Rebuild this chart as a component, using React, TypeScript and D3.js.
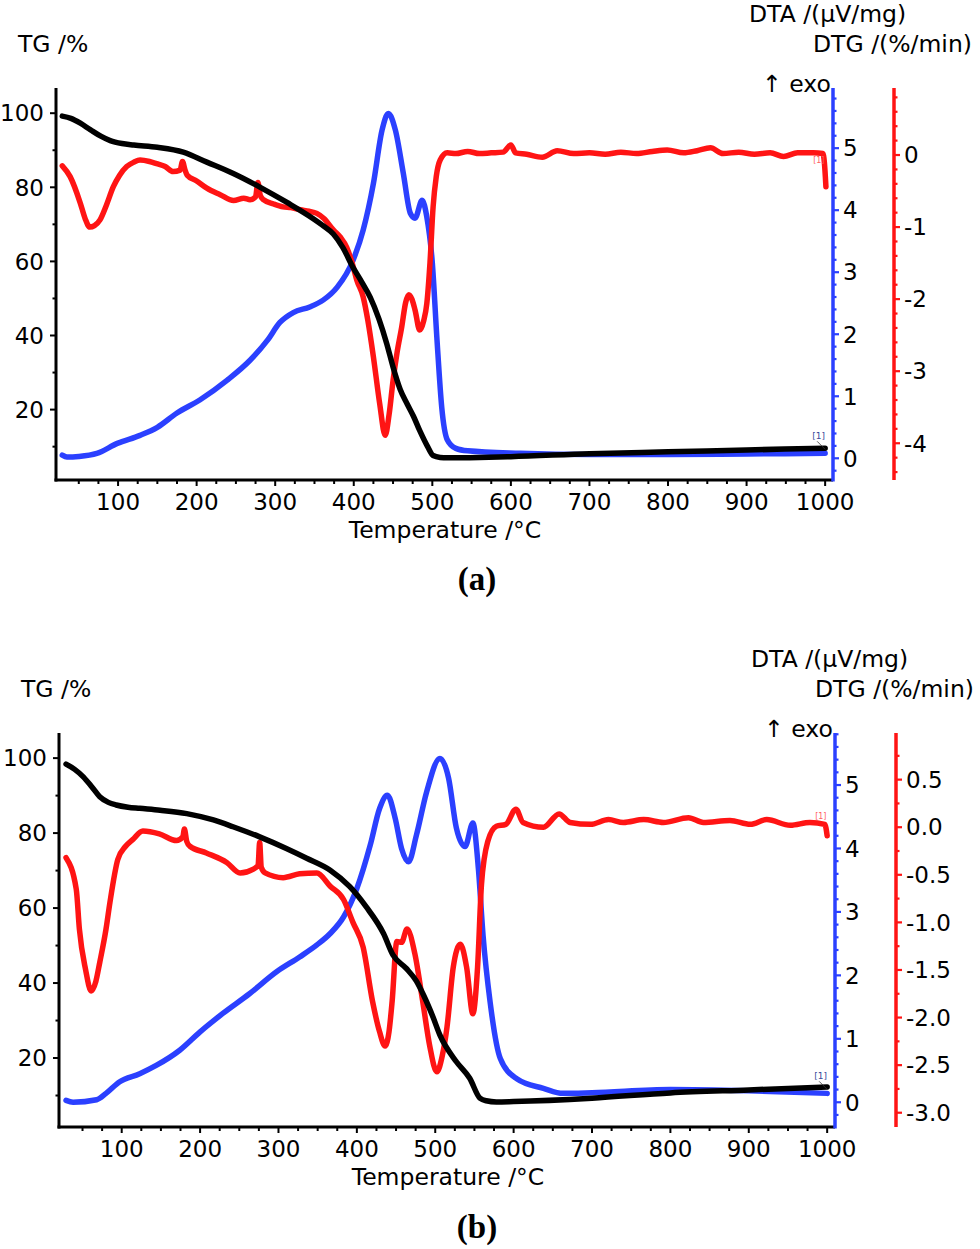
import React from 'react';
import * as d3 from 'd3';

type Pt = [number, number];

// ---- panel (a) ----
const tgA: Pt[] = [
  [29, 99.2], [40, 98.6], [52, 97.3], [65, 95.5], [78, 93.8], [90, 92.6], [105, 91.8], [120, 91.4],
  [150, 90.8], [183, 89.5], [213, 86.8], [246, 83.8], [281, 80.0], [315, 75.9], [348, 71.6], [360, 69.8],
  [374, 67.4], [386, 63.8], [399, 58.4], [410, 54.5], [421, 50.3], [432, 44.5], [442, 37.8], [450, 31.5],
  [459, 25.5], [468, 21.5], [476, 18.2], [484, 14.3], [494, 10.0], [501, 7.6], [510, 7.1], [519, 7.0],
  [560, 7.1], [600, 7.3], [700, 8.1], [800, 8.6], [900, 9.1], [1000, 9.6],
];

const dtaA: Pt[] = [
  [29, 0.05], [35, 0.02], [50, 0.03], [73, 0.08], [99, 0.24], [128, 0.37], [150, 0.5], [175, 0.73],
  [204, 0.94], [239, 1.26], [268, 1.58], [290, 1.9], [306, 2.19], [323, 2.35], [344, 2.44], [361, 2.55],
  [379, 2.76], [399, 3.19], [412, 3.68], [425, 4.43], [436, 5.29], [444, 5.56], [453, 5.29], [463, 4.6],
  [472, 3.95], [478, 3.87], [487, 4.16], [493, 3.89], [500, 3.15], [506, 1.9], [512, 0.82], [519, 0.3],
  [530, 0.16], [545, 0.12], [612, 0.08], [700, 0.06], [800, 0.06], [900, 0.07], [1000, 0.08],
];

const dtgA: Pt[] = [
  [29, -0.15], [39, -0.3], [52, -0.67], [58, -0.88], [64, -1.0], [70, -0.98], [77, -0.9], [85, -0.7],
  [94, -0.44], [102, -0.28], [111, -0.16], [120, -0.1], [128, -0.07], [140, -0.09], [149, -0.12],
  [160, -0.16], [170, -0.23], [179, -0.21], [182, -0.09], [185, -0.2], [188, -0.28], [200, -0.36],
  [213, -0.46], [230, -0.55], [247, -0.63], [260, -0.6], [268, -0.62], [275, -0.58], [278, -0.38],
  [281, -0.56], [285, -0.62], [298, -0.68], [310, -0.72], [320, -0.73], [332, -0.76], [343, -0.78],
  [353, -0.81], [362, -0.88], [374, -1.04], [383, -1.14], [391, -1.28], [398, -1.5], [404, -1.74],
  [412, -1.97], [418, -2.3], [425, -2.8], [433, -3.45], [440, -3.89], [445, -3.6], [450, -3.13],
  [455, -2.75], [461, -2.39], [466, -2.05], [470, -1.94], [474, -2.0], [478, -2.15], [484, -2.43],
  [489, -2.3], [493, -2.06], [497, -1.5], [501, -0.72], [505, -0.3], [510, -0.07], [519, 0.03],
  [530, 0.02], [545, 0.05], [560, 0.02], [575, 0.03], [590, 0.04], [600, 0.14], [606, 0.03],
  [620, 0.01], [640, -0.03], [659, 0.06], [680, 0.02], [700, 0.03], [720, 0.01], [740, 0.04],
  [760, 0.02], [780, 0.05], [799, 0.07], [820, 0.03], [837, 0.06], [854, 0.1], [870, 0.02],
  [890, 0.04], [910, 0.01], [930, 0.03], [947, -0.02], [965, 0.03], [985, 0.03], [997, 0.02],
  [999, -0.1], [1001, -0.44],
];

// ---- panel (b) ----
const tgB: Pt[] = [
  [29, 98.4], [40, 97.0], [51, 95.0], [62, 92.3], [72, 89.7], [83, 88.2], [93, 87.5], [108, 86.9],
  [123, 86.6], [149, 86.1], [183, 85.2], [217, 83.5], [242, 81.7], [276, 79.0], [310, 75.9], [336, 73.3],
  [366, 70.1], [391, 65.7], [412, 60.3], [434, 53.2], [446, 47.5], [463, 43.9], [476, 40.5], [485, 36.8],
  [497, 31.0], [506, 26.1], [527, 19.0], [544, 14.6], [557, 9.3], [565, 8.6], [578, 8.3], [600, 8.4],
  [700, 9.3], [800, 10.7], [900, 11.5], [1000, 12.3],
];

const dtaB: Pt[] = [
  [29, 0.03], [38, 0.0], [68, 0.04], [80, 0.14], [97, 0.32], [123, 0.45], [144, 0.58], [174, 0.82],
  [200, 1.11], [229, 1.4], [263, 1.71], [298, 2.06], [327, 2.29], [349, 2.48], [366, 2.66], [383, 2.92],
  [400, 3.37], [417, 4.05], [429, 4.63], [439, 4.84], [449, 4.47], [457, 4.0], [466, 3.79], [476, 4.21],
  [489, 4.89], [506, 5.42], [517, 5.11], [527, 4.32], [538, 4.03], [548, 4.4], [555, 3.69], [561, 2.63],
  [570, 1.58], [583, 0.69], [604, 0.37], [638, 0.22], [663, 0.14], [700, 0.15], [800, 0.2],
  [900, 0.18], [1000, 0.14],
];

const dtgB: Pt[] = [
  [29, -0.32], [42, -0.65], [46, -1.07], [54, -1.5], [61, -1.72], [67, -1.62], [72, -1.42], [80, -1.07],
  [85, -0.79], [95, -0.34], [105, -0.2], [114, -0.13], [127, -0.04], [148, -0.07], [170, -0.14],
  [178, -0.1], [180, -0.02], [183, -0.15], [187, -0.2], [208, -0.27], [234, -0.37], [251, -0.48],
  [268, -0.44], [274, -0.4], [276, -0.16], [278, -0.42], [283, -0.48], [306, -0.53], [327, -0.49],
  [349, -0.48], [366, -0.62], [383, -0.76], [395, -1.0], [408, -1.26], [420, -1.83], [429, -2.15],
  [436, -2.3], [441, -2.15], [445, -1.83], [451, -1.2], [457, -1.21], [464, -1.07], [474, -1.33],
  [484, -1.83], [493, -2.3], [502, -2.57], [509, -2.4], [515, -2.1], [523, -1.47], [532, -1.23],
  [540, -1.47], [548, -1.96], [554, -1.47], [559, -0.6], [567, -0.15], [578, 0.01], [590, 0.03],
  [603, 0.19], [612, 0.05], [638, 0.0], [658, 0.14], [672, 0.05], [698, 0.03], [721, 0.08],
  [740, 0.05], [766, 0.08], [791, 0.05], [823, 0.1], [842, 0.05], [876, 0.07], [902, 0.03],
  [923, 0.08], [953, 0.02], [978, 0.05], [997, 0.03], [1000, -0.09],
];

// axis ticks
const tempTicks = d3.range(100, 1001, 100);
const tempMinor = d3.range(50, 1001, 25).filter((v) => v % 100 !== 0);
const tgTicks = [20, 40, 60, 80, 100];
const tgMinor = [10, 30, 50, 70, 90];
const dtaTicks = [0, 1, 2, 3, 4, 5];
const dtaMinor = d3.range(-1, 30).map((i) => +(i * 0.2).toFixed(1)).filter((v) => v % 1 !== 0);
const dtgTicksA = [-4, -3, -2, -1, 0];
const dtgMinorA = d3.range(-22, 5).map((i) => +(i * 0.2).toFixed(1)).filter((v) => v % 1 !== 0);
const dtgTicksB = [-3, -2.5, -2, -1.5, -1, -0.5, 0, 0.5];
const dtgMinorB = [-2.75, -2.25, -1.75, -1.25, -0.75, -0.25, 0.25, 0.75];

const BLUE = '#2b40ff';
const RED = '#ff1414';
const FONT = "'DejaVu Sans', Verdana, sans-serif";

interface PanelCfg {
  tg: Pt[];
  dta: Pt[];
  dtg: Pt[];
  left: number;
  right: number;
  redX: number;
  top: number;
  bottom: number;
  tDomain: [number, number];
  tgDomain: [number, number];
  dtaDomain: [number, number];
  dtgDomain: [number, number];
  dtgTicks: number[];
  dtgMinor: number[];
  dtgFmt: (v: number) => string;
  oy: number; // vertical offset of the titles
  caption: string;
  captionY: number;
  tempLabelY: number;
  tgTitleX: number;
}

const Panel: React.FC<{cfg: PanelCfg; id: string}> = ({cfg, id}) => {
  const x = d3.scaleLinear().domain(cfg.tDomain).range([cfg.left, cfg.right]);
  const yTG = d3.scaleLinear().domain(cfg.tgDomain).range([cfg.bottom, cfg.top]);
  const yDTA = d3.scaleLinear().domain(cfg.dtaDomain).range([cfg.bottom, cfg.top]);
  const yDTG = d3.scaleLinear().domain(cfg.dtgDomain).range([cfg.bottom, cfg.top]);

  const mk = (ys: d3.ScaleLinear<number, number>) =>
    d3.line<Pt>().x((d) => x(d[0])).y((d) => ys(d[1])).curve(d3.curveMonotoneX);

  const inRange = (s: d3.ScaleLinear<number, number>) => (v: number) => {
    const [a, b] = s.domain();
    return v >= Math.min(a, b) && v <= Math.max(a, b);
  };

  const dtaEnd = yDTA(cfg.dta[cfg.dta.length - 1][1]);

  return (
    <g fontFamily={FONT}>
      <defs>
        <clipPath id={`clip-${id}`}>
          <rect x={cfg.left + 1} y={cfg.top} width={cfg.right - cfg.left + 2} height={cfg.bottom - cfg.top - 1} />
        </clipPath>
      </defs>

      {/* curves */}
      <g clipPath={`url(#clip-${id})`} fill="none" strokeWidth={5.5} strokeLinejoin="round" strokeLinecap="round">
        <path d={mk(yDTA)(cfg.dta)!} stroke={BLUE} />
        <path d={mk(yDTG)(cfg.dtg)!} stroke={RED} />
        <path d={mk(yTG)(cfg.tg)!} stroke="#000" />
      </g>

      {/* [1] markers at the end of the curves */}
      <text x={x(1000) - 13} y={dtaEnd - 14} fontSize={9} fill="#3a4a9a">[1]</text>
      <line x1={x(1000) - 8} y1={dtaEnd - 12} x2={x(1000)} y2={dtaEnd - 4} stroke="#333" strokeWidth={0.8} />
      <text x={x(1000) - 12} y={yDTG(0.05) + (id === 'a' ? 12 : -3)} fontSize={8} fill="#ff6060">[1]</text>

      {/* left TG axis */}
      <line x1={cfg.left} y1={cfg.top} x2={cfg.left} y2={cfg.bottom + 1.5} stroke="#000" strokeWidth={3} />
      {tgTicks.map((v) => (
        <g key={`tg${v}`}>
          <line x1={cfg.left - 6} x2={cfg.left} y1={yTG(v)} y2={yTG(v)} stroke="#000" strokeWidth={2} />
          <text x={cfg.left - 12} y={yTG(v)} dy="0.36em" textAnchor="end" fontSize={23}>{v}</text>
        </g>
      ))}
      {tgMinor.filter(inRange(yTG)).map((v) => (
        <line key={`tgm${v}`} x1={cfg.left - 3.5} x2={cfg.left} y1={yTG(v)} y2={yTG(v)} stroke="#000" strokeWidth={2} />
      ))}

      {/* bottom temperature axis */}
      <line x1={cfg.left - 1.5} y1={cfg.bottom} x2={cfg.right} y2={cfg.bottom} stroke="#000" strokeWidth={3} />
      {tempTicks.map((v) => (
        <g key={`t${v}`}>
          <line x1={x(v)} x2={x(v)} y1={cfg.bottom} y2={cfg.bottom + 6} stroke="#000" strokeWidth={2} />
          <text x={x(v)} y={cfg.bottom + 30} textAnchor="middle" fontSize={23}>{v}</text>
        </g>
      ))}
      {tempMinor.map((v) => (
        <line key={`tm${v}`} x1={x(v)} x2={x(v)} y1={cfg.bottom} y2={cfg.bottom + 4} stroke="#000" strokeWidth={2} />
      ))}
      <text x={cfg.left + 389} y={cfg.tempLabelY} textAnchor="middle" fontSize={23.5}>Temperature /°C</text>

      {/* DTA axis */}
      <line x1={cfg.right} y1={cfg.top} x2={cfg.right} y2={cfg.bottom + 1.5} stroke={BLUE} strokeWidth={3.5} />
      {dtaTicks.map((v) => (
        <g key={`dta${v}`}>
          <line x1={cfg.right} x2={cfg.right + 6} y1={yDTA(v)} y2={yDTA(v)} stroke={BLUE} strokeWidth={2.2} />
          <text x={cfg.right + 10} y={yDTA(v)} dy="0.36em" fontSize={23}>{v}</text>
        </g>
      ))}
      {dtaMinor.filter(inRange(yDTA)).map((v) => (
        <line key={`dtam${v}`} x1={cfg.right} x2={cfg.right + 3.5} y1={yDTA(v)} y2={yDTA(v)} stroke={BLUE} strokeWidth={2.2} />
      ))}

      {/* DTG axis */}
      <line x1={cfg.redX} y1={cfg.top} x2={cfg.redX} y2={cfg.bottom} stroke={RED} strokeWidth={3.5} />
      {cfg.dtgTicks.map((v) => (
        <g key={`dtg${v}`}>
          <line x1={cfg.redX} x2={cfg.redX + 6} y1={yDTG(v)} y2={yDTG(v)} stroke={RED} strokeWidth={2.2} />
          <text x={cfg.redX + 10} y={yDTG(v)} dy="0.36em" fontSize={23}>{cfg.dtgFmt(v)}</text>
        </g>
      ))}
      {cfg.dtgMinor.filter(inRange(yDTG)).map((v) => (
        <line key={`dtgm${v}`} x1={cfg.redX} x2={cfg.redX + 3.5} y1={yDTG(v)} y2={yDTG(v)} stroke={RED} strokeWidth={2.2} />
      ))}

      {/* titles */}
      <text x={cfg.tgTitleX} y={cfg.oy + 52} fontSize={23.5}>TG /%</text>
      <text x={cfg.right - 84} y={cfg.oy + 22} fontSize={23.5}>DTA /(µV/mg)</text>
      <text x={cfg.right - 20} y={cfg.oy + 52} fontSize={23.5}>DTG /(%/min)</text>
      <text x={cfg.right - 71} y={cfg.oy + 92} fontSize={23.5}>↑ exo</text>

      <text x={477} y={cfg.captionY} textAnchor="middle" fontSize={33} fontWeight="bold"
            fontFamily="'Liberation Serif', 'Times New Roman', serif">{cfg.caption}</text>
    </g>
  );
};

const panelA: PanelCfg = {
  tg: tgA, dta: dtaA, dtg: dtgA,
  left: 56, right: 833, redX: 894, top: 88, bottom: 480,
  tDomain: [21, 1010], tgDomain: [1, 106.8], dtaDomain: [-0.35, 5.97], dtgDomain: [-4.51, 0.93],
  dtgTicks: dtgTicksA, dtgMinor: dtgMinorA, dtgFmt: (v) => String(v),
  oy: 0, caption: '(a)', captionY: 590, tempLabelY: 538, tgTitleX: 18,
};

const panelB: PanelCfg = {
  tg: tgB, dta: dtaB, dtg: dtgB,
  left: 59, right: 835, redX: 896, top: 733, bottom: 1127,
  tDomain: [20, 1010], tgDomain: [1.6, 106.7], dtaDomain: [-0.39, 5.82], dtgDomain: [-3.15, 0.99],
  dtgTicks: dtgTicksB, dtgMinor: dtgMinorB, dtgFmt: (v) => v.toFixed(1),
  oy: 645, caption: '(b)', captionY: 1238, tempLabelY: 1185, tgTitleX: 21,
};

export default function App() {
  return (
    <svg width={980} height={1249} viewBox="0 0 980 1249"
         style={{position: 'absolute', left: 0, top: 0, background: '#fff'}}>
      <rect width={980} height={1249} fill="#fff" />
      <Panel cfg={panelA} id="a" />
      <Panel cfg={panelB} id="b" />
    </svg>
  );
}
